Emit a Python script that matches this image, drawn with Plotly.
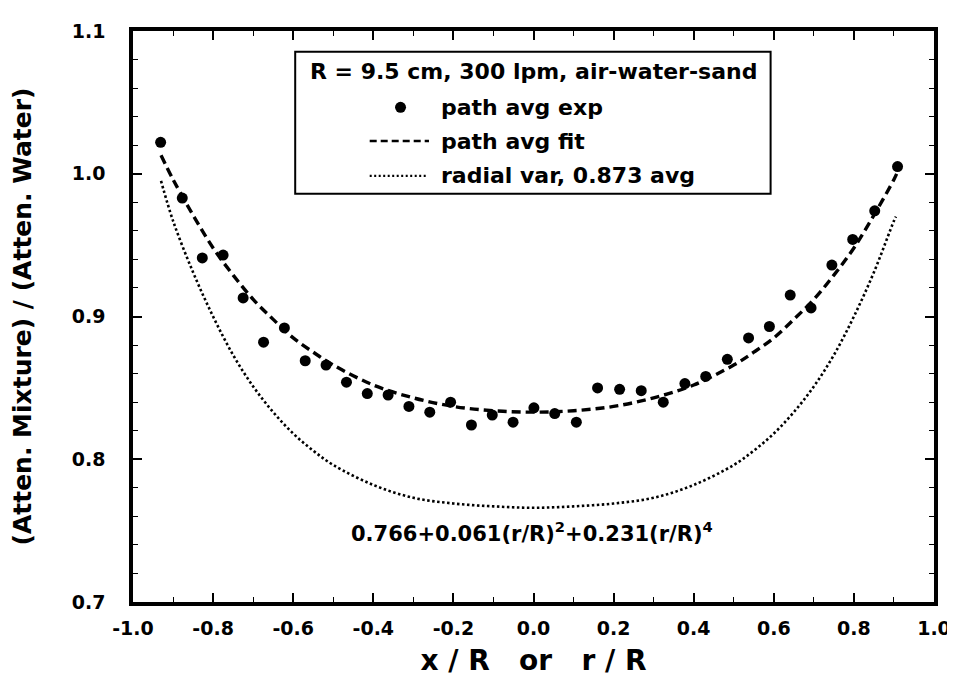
import plotly.graph_objects as go

# ---- data ----
exp_x = [-0.931, -0.877, -0.827, -0.775, -0.725, -0.674, -0.622, -0.570, -0.518,
         -0.467, -0.415, -0.363, -0.311, -0.259, -0.207, -0.155, -0.103, -0.051,
         0.001, 0.053, 0.107, 0.160, 0.215, 0.269, 0.324, 0.378, 0.430, 0.484,
         0.537, 0.589, 0.641, 0.693, 0.745, 0.797, 0.852, 0.909]
exp_y = [1.022, 0.983, 0.941, 0.943, 0.913, 0.882, 0.892, 0.869, 0.866,
         0.854, 0.846, 0.845, 0.837, 0.833, 0.840, 0.824, 0.831, 0.826,
         0.836, 0.832, 0.826, 0.850, 0.849, 0.848, 0.840, 0.853, 0.858, 0.870,
         0.885, 0.893, 0.915, 0.906, 0.936, 0.954, 0.974, 1.005]

fit_x = [-0.93, -0.9, -0.85, -0.8, -0.75, -0.7, -0.65, -0.6, -0.55, -0.5, -0.4, -0.3,
         -0.2, -0.1, 0.0, 0.1, 0.2, 0.3, 0.4, 0.5, 0.55, 0.6, 0.65, 0.7, 0.75, 0.8,
         0.85, 0.9, 0.91]
fit_y = [1.013, 0.996, 0.971, 0.948, 0.929, 0.912, 0.898, 0.885, 0.875, 0.866, 0.852, 0.843,
         0.837, 0.834, 0.833, 0.834, 0.837, 0.843, 0.852, 0.866, 0.875, 0.885, 0.898, 0.912,
         0.929, 0.948, 0.971, 0.996, 1.002]

rad_x = [-0.93, -0.9, -0.85, -0.8, -0.75, -0.7, -0.65, -0.6, -0.55, -0.5, -0.4, -0.3,
         -0.2, -0.1, 0.0, 0.1, 0.2, 0.3, 0.4, 0.5, 0.55, 0.6, 0.65, 0.7, 0.75, 0.8,
         0.85, 0.9, 0.905]
rad_y = [0.995, 0.967, 0.931, 0.900, 0.873, 0.851, 0.833, 0.818, 0.806, 0.796, 0.782, 0.773,
         0.769, 0.767, 0.766, 0.767, 0.769, 0.773, 0.782, 0.796, 0.806, 0.818, 0.833, 0.851,
         0.873, 0.900, 0.931, 0.967, 0.970]

x_ticks = [-1.0, -0.8, -0.6, -0.4, -0.2, 0.0, 0.2, 0.4, 0.6, 0.8, 1.0]
y_ticks = [0.7, 0.8, 0.9, 1.0, 1.1]

legend_title = "R = 9.5 cm, 300 lpm, air-water-sand"
names = ["path avg exp", "path avg fit", "radial var, 0.873 avg"]
formula = "0.766+0.061(r/R)<sup>2</sup>+0.231(r/R)<sup>4</sup>"
x_title = "x\u00a0/\u00a0R\u00a0\u00a0\u00a0or\u00a0\u00a0\u00a0r\u00a0/\u00a0R"
y_title = "(Atten. Mixture)\u00a0/\u00a0(Atten. Water)"

FONT = "DejaVu Sans, Liberation Sans, sans-serif"
BLACK = "black"

fig = go.Figure()
fig.add_trace(go.Scatter(x=rad_x, y=rad_y, mode="lines",
                         line=dict(color=BLACK, width=2.6, dash="2.5px,2.5px", shape="spline"),
                         showlegend=False, name=names[2]))
fig.add_trace(go.Scatter(x=fit_x, y=fit_y, mode="lines",
                         line=dict(color=BLACK, width=3.4, dash="9px,5px", shape="spline"),
                         showlegend=False, name=names[1]))
fig.add_trace(go.Scatter(x=exp_x, y=exp_y, mode="markers", marker=dict(color=BLACK, size=11),
                         showlegend=False, name=names[0]))

# legend sample marker
fig.add_trace(go.Scatter(x=[-0.332], y=[1.0465], mode="markers", marker=dict(color=BLACK, size=11),
                         showlegend=False, hoverinfo="skip"))

shapes = [
    dict(type="rect", xref="x", yref="y", x0=-0.595, x1=0.592, y0=0.986, y1=1.0854,
         line=dict(color=BLACK, width=2), fillcolor="white", layer="below"),
    dict(type="line", xref="x", yref="y", x0=-0.409, x1=-0.261, y0=1.023, y1=1.023,
         line=dict(color=BLACK, width=2.5, dash="7px,4px")),
    dict(type="line", xref="x", yref="y", x0=-0.409, x1=-0.268, y0=0.9985, y1=0.9985,
         line=dict(color=BLACK, width=2.2, dash="2px,2.5px")),
]

def ann(x, y, text, size, xanchor):
    return dict(x=x, y=y, xref="x", yref="y", text=text, showarrow=False,
                font=dict(family=FONT, size=size, color=BLACK, weight="bold"),
                xanchor=xanchor, yanchor="middle")

annotations = [
    ann(0.0, 1.0715, legend_title, 22, "center"),
    ann(-0.236, 1.0465, names[0], 22, "left"),
    ann(-0.236, 1.0225, names[1], 22, "left"),
    ann(-0.236, 0.9985, names[2], 22, "left"),
    ann(-0.004, 0.749, formula, 21, "center"),
]
fig.update_layout(shapes=shapes, annotations=annotations)

fig.update_layout(
    width=955, height=681,
    margin=dict(l=124, r=22, t=17, b=87),
    paper_bgcolor="white", plot_bgcolor="white",
    font=dict(family=FONT, color=BLACK),
    xaxis=dict(range=[-1.0, 1.0], tickvals=x_ticks, ticktext=[f"{v:.1f}" for v in x_ticks],
               showgrid=False, zeroline=False, showline=True, linecolor=BLACK, linewidth=3.5,
               mirror="ticks", ticks="inside", ticklen=9, tickwidth=1.5, tickcolor=BLACK,
               minor=dict(ticks="inside", ticklen=5, tickwidth=1.2, dtick=0.1, tickcolor=BLACK, showgrid=False),
               tickfont=dict(family=FONT, size=19, color=BLACK, weight="bold"),
               ticklabelstandoff=6,
               title=dict(text=x_title, font=dict(family=FONT, size=28, color=BLACK, weight="bold"), standoff=14)),
    yaxis=dict(range=[0.7, 1.1], tickvals=y_ticks, ticktext=[f"{v:.1f}" for v in y_ticks],
               showgrid=False, zeroline=False, showline=True, linecolor=BLACK, linewidth=3.5,
               mirror="ticks", ticks="inside", ticklen=9, tickwidth=1.5, tickcolor=BLACK,
               minor=dict(ticks="inside", ticklen=5, tickwidth=1.2, dtick=0.02, tickcolor=BLACK, showgrid=False),
               tickfont=dict(family=FONT, size=19, color=BLACK, weight="bold"),
               ticklabelstandoff=20,
               title=dict(text=y_title, font=dict(family=FONT, size=25, color=BLACK, weight="bold"), standoff=34)),
)

fig.write_html("out.html")
